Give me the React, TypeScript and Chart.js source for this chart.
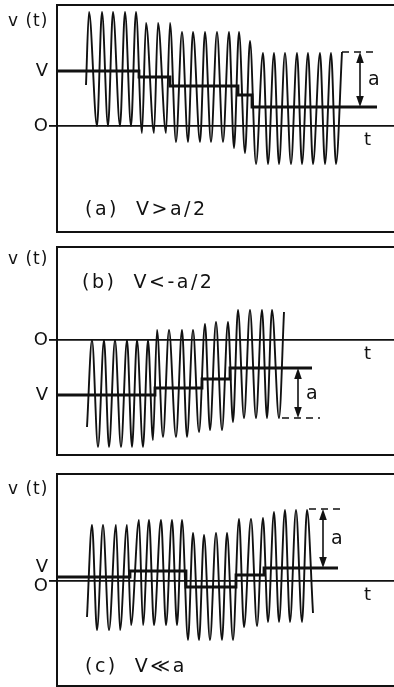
import React, { useEffect, useRef } from 'react';
import { Chart, registerables } from 'chart.js';

Chart.register(...registerables);

const INK = '#111111';
const FONT = 'DejaVu Sans';
const T_MAX = 337;

// ---------- panel (a): V > a/2 ----------
const waveA_t = [29, 32, 40, 45, 51, 56, 63, 68, 74, 79, 85, 89, 97, 101, 109, 113, 119, 125, 131, 136, 143, 148, 154, 160, 166, 172, 177, 182, 188, 193, 199, 206, 211, 217, 222, 228, 234, 240, 245, 251, 256, 263, 268, 274, 279, 285];
const waveA_v = [41, 114, 0, 114, 0, 114, 0, 114, 0, 114, -7, 103, -7, 103, -7, 103, -16, 94, -16, 94, -16, 94, -16, 94, -16, 94, -22, 94, -27, 85, -38, 73, -38, 73, -38, 73, -38, 73, -38, 73, -38, 73, -38, 73, -38, 74];
const stepA_t = [0, 82, 113, 181, 195, 320];
const stepA_v = [55, 49, 40, 31, 19, 19];
const refA_t = [285, 320];
const refA_v = [74, 74];
const arrowA = { t: 303, from: 19, to: 74 };
const rangeA = [-106, 121];

// ---------- panel (b): V < -a/2 ----------
const waveB_t = [30, 35, 41, 47, 52, 58, 64, 70, 75, 80, 86, 91, 96, 100, 106, 112, 119, 125, 130, 136, 142, 148, 153, 159, 165, 171, 176, 181, 187, 193, 199, 205, 210, 215, 222, 227];
const waveB_v = [-87, 0, -107, 0, -107, 0, -107, 0, -107, 0, -107, 0, -100, 10, -97, 10, -97, 10, -97, 10, -92, 16, -90, 18, -90, 18, -82, 30, -78, 30, -78, 30, -78, 30, -78, 28];
const stepB_t = [0, 98, 145, 173, 255];
const stepB_v = [-55, -48, -39, -28, -28];
const refB_t = [225, 263];
const refB_v = [-78, -78];
const arrowB = { t: 241, from: -78, to: -28 };
const rangeB = [-115, 93];

// ---------- panel (c): V << a ----------
const waveC_t = [30, 35, 40, 46, 52, 59, 63, 70, 74, 82, 86, 92, 97, 104, 109, 115, 120, 125, 131, 136, 142, 147, 153, 159, 165, 170, 176, 182, 187, 194, 200, 206, 211, 217, 222, 228, 233, 239, 245, 250, 256];
const waveC_v = [-36, 56, -49, 56, -49, 56, -49, 56, -44, 61, -44, 61, -44, 61, -44, 61, -44, 61, -59, 48, -59, 46, -59, 48, -59, 48, -59, 62, -46, 62, -45, 63, -41, 69, -41, 71, -41, 71, -41, 71, -32];
const stepC_t = [0, 73, 129, 179, 207, 281];
const stepC_v = [4, 10, -6, 6, 13, 13];
const refC_t = [252, 285];
const refC_v = [72, 72];
const arrowC = { t: 266, from: 13, to: 72 };
const rangeC = [-105, 107];

// tick labels
const tickLabelsAB = { zero: 'O', v: 'V' };
const tickLabelsC = { zero: '', v: ['V', 'O'] };

const captions = ['(a)  V>a/2', '(b)  V<-a/2', '(c)  V\u226Aa'];

const zip = (ts: number[], vs: number[]) => ts.map((t, i) => ({ x: t, y: vs[i] }));

const figurePlugin = {
  id: 'figure',
  afterDraw(chart: any, _args: any, opts: any) {
    const { ctx, chartArea } = chart;
    const xs = chart.scales.x;
    const ys = chart.scales.y;
    ctx.save();
    ctx.fillStyle = INK;
    ctx.strokeStyle = INK;
    ctx.textBaseline = 'middle';
    ctx.textAlign = 'left';

    // v (t)
    ctx.font = `17px "${FONT}"`;
    (ctx as any).letterSpacing = '1px';
    ctx.fillText('v (t)', 8, chartArea.top + opts.vtDy);

    // t on the time axis
    ctx.font = `18px "${FONT}"`;
    (ctx as any).letterSpacing = '0px';
    ctx.fillText('t', chartArea.left + 307, ys.getPixelForValue(0) + 14);

    // caption
    ctx.font = `19px "${FONT}"`;
    (ctx as any).letterSpacing = '2.5px';
    ctx.fillText(opts.caption, opts.captionX, chartArea.top + opts.captionDy);

    // arrow for a
    const ax = xs.getPixelForValue(opts.arrow.t);
    const y1 = ys.getPixelForValue(opts.arrow.from);
    const y2 = ys.getPixelForValue(opts.arrow.to);
    const top = Math.min(y1, y2);
    const bot = Math.max(y1, y2);
    ctx.lineWidth = 1.6;
    ctx.beginPath();
    ctx.moveTo(ax, top + 6);
    ctx.lineTo(ax, bot - 6);
    ctx.stroke();
    ctx.beginPath();
    ctx.moveTo(ax, top);
    ctx.lineTo(ax - 3.8, top + 11);
    ctx.lineTo(ax + 3.8, top + 11);
    ctx.closePath();
    ctx.fill();
    ctx.beginPath();
    ctx.moveTo(ax, bot);
    ctx.lineTo(ax - 3.8, bot - 11);
    ctx.lineTo(ax + 3.8, bot - 11);
    ctx.closePath();
    ctx.fill();

    // a label
    (ctx as any).letterSpacing = '0px';
    ctx.font = `19px "${FONT}"`;
    ctx.fillText('a', ax + 8, (top + bot) / 2 + 1);
    ctx.restore();
  },
};

type PanelCfg = {
  top: number;
  height: number;
  padTop: number;
  padBottom: number;
  waveT: number[];
  waveV: number[];
  stepT: number[];
  stepV: number[];
  refT: number[];
  refV: number[];
  arrow: { t: number; from: number; to: number };
  range: number[];
  labels: { zero: any; v: any };
  caption: string;
  captionX: number;
  captionDy: number;
  vtDy: number;
};

const panels: PanelCfg[] = [
  { top: 0, height: 235, padTop: 5, padBottom: 3, waveT: waveA_t, waveV: waveA_v, stepT: stepA_t, stepV: stepA_v, refT: refA_t, refV: refA_v, arrow: arrowA, range: rangeA, labels: tickLabelsAB, caption: captions[0], captionX: 85, captionDy: 205, vtDy: 17 },
  { top: 235, height: 225, padTop: 12, padBottom: 5, waveT: waveB_t, waveV: waveB_v, stepT: stepB_t, stepV: stepB_v, refT: refB_t, refV: refB_v, arrow: arrowB, range: rangeB, labels: tickLabelsAB, caption: captions[1], captionX: 82, captionDy: 36, vtDy: 13 },
  { top: 460, height: 227, padTop: 14, padBottom: 1, waveT: waveC_t, waveV: waveC_v, stepT: stepC_t, stepV: stepC_v, refT: refC_t, refV: refC_v, arrow: arrowC, range: rangeC, labels: tickLabelsC, caption: captions[2], captionX: 85, captionDy: 193, vtDy: 16 },
];

function Panel({ p }: { p: PanelCfg }) {
  const ref = useRef<HTMLCanvasElement | null>(null);
  useEffect(() => {
    if (!ref.current) return;
    const vLevel = p.stepV[0];
    const lineColor = (c: any) => (c.tick && c.tick.value === 0 ? INK : 'rgba(0,0,0,0)');
    const chart = new Chart(ref.current, {
      type: 'line',
      data: {
        datasets: [
          { data: zip(p.waveT, p.waveV), borderColor: INK, borderWidth: 1.9, pointRadius: 0, cubicInterpolationMode: 'monotone', fill: false },
          { data: zip(p.stepT, p.stepV), borderColor: INK, borderWidth: 2.8, pointRadius: 0, stepped: 'before', fill: false },
          { data: zip(p.refT, p.refV), borderColor: INK, borderWidth: 1.5, pointRadius: 0, borderDash: [7, 5], fill: false },
        ],
      },
      options: {
        responsive: false,
        animation: false,
        events: [],
        layout: { padding: { top: p.padTop, bottom: p.padBottom, left: 0, right: 0 } },
        plugins: {
          legend: { display: false },
          tooltip: { enabled: false },
          figure: { caption: p.caption, captionX: p.captionX, captionDy: p.captionDy, vtDy: p.vtDy, arrow: p.arrow },
        } as any,
        scales: {
          x: {
            type: 'linear', min: 0, max: T_MAX,
            ticks: { display: false },
            grid: { display: false, drawTicks: false },
            border: { display: true, color: INK, width: 2 },
          },
          xTop: {
            type: 'linear', position: 'top', min: 0, max: T_MAX,
            ticks: { display: false },
            grid: { display: false, drawTicks: false },
            border: { display: true, color: INK, width: 2 },
          },
          y: {
            type: 'linear', min: p.range[0], max: p.range[1],
            afterBuildTicks: (ax: any) => { ax.ticks = [{ value: vLevel }, { value: 0 }]; },
            afterFit: (ax: any) => { ax.width = 57; ax.paddingTop = 0; ax.paddingBottom = 0; },
            ticks: {
              autoSkip: false,
              padding: 1,
              color: INK,
              font: { family: FONT, size: 18, lineHeight: 1.05 },
              callback: (v: any) => (v === 0 ? p.labels.zero : p.labels.v),
            },
            grid: { color: lineColor, tickColor: lineColor, lineWidth: 1.8, tickLength: 8, drawTicks: true, drawOnChartArea: true },
            border: { display: true, color: INK, width: 2 },
          },
        } as any,
      },
      plugins: [figurePlugin as any],
    });
    return () => chart.destroy();
  }, []);
  return (
    <canvas
      ref={ref}
      width={394}
      height={p.height}
      style={{ position: 'absolute', left: 0, top: p.top, width: 394, height: p.height }}
    />
  );
}

export default function App() {
  return (
    <div style={{ position: 'absolute', left: 0, top: 0, width: 394, height: 687, background: '#fff', overflow: 'hidden' }}>
      {panels.map((p, i) => (
        <Panel key={i} p={p} />
      ))}
    </div>
  );
}
